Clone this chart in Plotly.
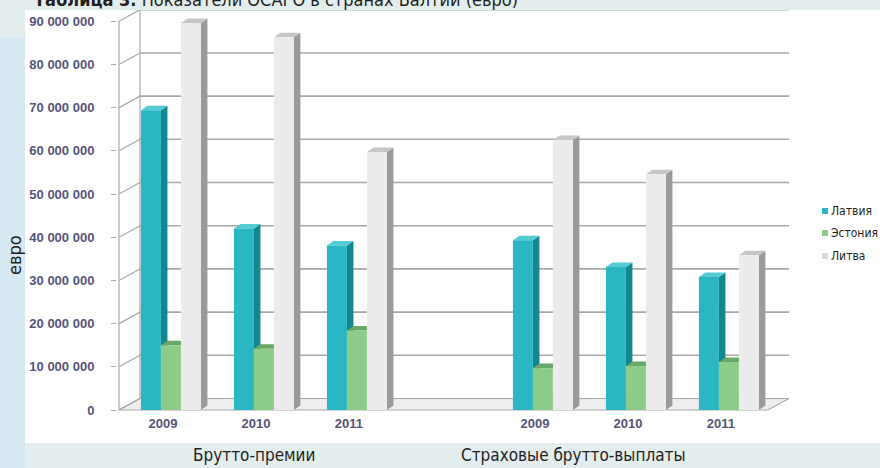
import plotly.graph_objects as go

# --- data -------------------------------------------------------------
groups = ["Брутто-премии", "Страховые брутто-выплаты"]
years = ["2009", "2010", "2011"]
series_names = ["Латвия", "Эстония", "Литва"]
latvia = [69.4e6, 42.0e6, 38.1e6, 39.3e6, 33.1e6, 30.8e6]
estonia = [15.0e6, 14.2e6, 18.4e6, 9.7e6, 10.2e6, 11.1e6]
lithuania = [89.6e6, 86.3e6, 59.7e6, 62.5e6, 54.6e6, 35.8e6]
y_ticks = [0, 10e6, 20e6, 30e6, 40e6, 50e6, 60e6, 70e6, 80e6, 90e6]
title_bold = "Таблица 3."
title_rest = "Показатели ОСАГО в странах Балтии (евро)"
y_title = "евро"

# --- layout geometry ----------------------------------------------------
W, H = 880, 468
ML, MR, MT, MB = 117, 90, 10, 56
PW, PH = W - ML - MR, H - MT - MB
XR = [-0.58, 6.657]
YR = [-0.463e6, 92.6e6]
UX = (XR[1] - XR[0]) / PW      # x units per pixel
UY = (YR[1] - YR[0]) / PH      # y units per pixel

# category positions: one empty slot between the two groups
x_pos = [0, 1, 2, 4, 5, 6]
tick_text = years + years

BARGAP = 0.355
BW = (1 - BARGAP) / 3

# 3D depth offsets (pixels -> axis units)
BDX, BDY = 6.5 * UX, 4.5 * UY     # bar depth
WDX, WDY = 21 * UX, 11.5 * UY     # wall / floor depth

FONT_NARROW = "Liberation Sans Narrow, DejaVu Sans Condensed, Roboto, sans-serif"
FONT_AXIS = "Liberation Sans, Arial, sans-serif"

front = ["#2ab6c2", "#8ccb88", "#ebebeb"]
side = ["#12878f", "#5f9f5c", "#9a9a9a"]
top = ["#55cbd3", "#6aa867", "#c6c6c6"]
values = [latvia, estonia, lithuania]


def fx(px):
    return (px - ML) / PW


def fy(py):
    return (H - MB - py) / PH


shapes = []

# page background pieces
shapes.append(dict(type="rect", xref="paper", yref="paper", x0=fx(0), x1=fx(25),
                   y0=fy(468), y1=fy(38), fillcolor="#d6e8f2", line_width=0, layer="below"))
shapes.append(dict(type="rect", xref="paper", yref="paper", x0=fx(25), x1=fx(880),
                   y0=fy(443), y1=fy(10), fillcolor="#ffffff", line_width=0, layer="below"))

# walls, floor and gridlines of the 3D frame
xl = XR[0] + 2 * UX
xe = XR[1] - 1 * UX
grid_col = "#a9a9a9"
shapes.append(dict(type="path", xref="x", yref="y",
                   path=f"M{xl},0 L{xe - WDX},0 L{xe},{WDY} L{xl + WDX},{WDY} Z",
                   fillcolor="#eeeeee", line=dict(color=grid_col, width=1.2), layer="below"))
shapes.append(dict(type="line", xref="x", yref="y", x0=xl, x1=xl, y0=0, y1=y_ticks[-1],
                   line=dict(color=grid_col, width=1.2), layer="below"))
shapes.append(dict(type="line", xref="x", yref="y", x0=xl + WDX, x1=xl + WDX, y0=WDY,
                   y1=y_ticks[-1] + WDY, line=dict(color=grid_col, width=1.2), layer="below"))
for v in y_ticks:
    shapes.append(dict(type="line", xref="x", yref="y", x0=xl, x1=xl + WDX, y0=v, y1=v + WDY,
                       line=dict(color=grid_col, width=1.2), layer="below"))
    if v > 0:
        shapes.append(dict(type="line", xref="x", yref="y", x0=xl + WDX, x1=xe,
                           y0=v + WDY, y1=v + WDY,
                           line=dict(color=grid_col, width=1.6), layer="below"))

# side and top faces of each column
for i, vals in enumerate(values):
    for xp, v in zip(x_pos, vals):
        xr = xp + (i - 1) * BW + BW / 2
        xa = xr - BW
        shapes.append(dict(type="path", xref="x", yref="y",
                           path=f"M{xr},0 L{xr},{v} L{xr + BDX},{v + BDY} L{xr + BDX},{BDY} Z",
                           fillcolor=side[i], line_width=0, layer="below"))
        shapes.append(dict(type="path", xref="x", yref="y",
                           path=f"M{xa},{v} L{xr},{v} L{xr + BDX},{v + BDY} L{xa + BDX},{v + BDY} Z",
                           fillcolor=top[i], line_width=0, layer="below"))

fig = go.Figure()
for i, vals in enumerate(values):
    fig.add_trace(go.Bar(x=x_pos, y=vals, name=series_names[i],
                         marker=dict(color=front[i], line_width=0), showlegend=False))

# legend drawn as small squares with labels
legend_y = [211, 233, 256]
annotations = []
for i, name in enumerate(series_names):
    shapes.append(dict(type="rect", xref="paper", yref="paper",
                       x0=fx(822), x1=fx(828), y0=fy(legend_y[i] + 3), y1=fy(legend_y[i] - 3),
                       fillcolor=front[i] if i < 2 else "#d9d9d9", line_width=0))
    annotations.append(dict(xref="paper", yref="paper", x=fx(829), y=fy(legend_y[i]),
                            xanchor="left", yanchor="middle", text=name, showarrow=False,
                            font=dict(family=FONT_NARROW, size=12, color="#231f20")))

annotations.append(dict(xref="paper", yref="paper", x=fx(32), y=fy(12),
                        xanchor="left", yanchor="bottom", showarrow=False,
                        text=f"<b>{title_bold}</b> {title_rest}",
                        font=dict(family=FONT_NARROW, size=18, color="#231f20")))
annotations.append(dict(xref="paper", yref="paper", x=fx(15), y=fy(255),
                        xanchor="center", yanchor="middle", textangle=-90, showarrow=False,
                        text=y_title, font=dict(family=FONT_NARROW, size=18, color="#231f20")))
group_centers = [254, 573]
for g, cx in zip(groups, group_centers):
    annotations.append(dict(xref="paper", yref="paper", x=fx(cx), y=fy(455),
                            xanchor="center", yanchor="middle", text=g, showarrow=False,
                            font=dict(family=FONT_NARROW, size=17, color="#231f20")))

fig.update_layout(
    width=W, height=H,
    margin=dict(l=ML, r=MR, t=MT, b=MB, autoexpand=False),
    paper_bgcolor="#e4edee", plot_bgcolor="rgba(0,0,0,0)",
    barmode="group", bargap=BARGAP, bargroupgap=0,
    separators=", ",
    shapes=shapes, annotations=annotations,
    showlegend=False,
)
fig.update_xaxes(range=XR, tickvals=x_pos, ticktext=tick_text, showgrid=False,
                 zeroline=False, showline=False, ticks="", ticklabelshift=-8,
                 ticklabelstandoff=2,
                 tickfont=dict(family=FONT_AXIS, size=13, color="#55557a", weight="bold"))
fig.update_yaxes(range=YR, tickvals=y_ticks, tickformat=",d", showgrid=False,
                 zeroline=False, showline=False, ticks="outside", ticklen=5,
                 tickcolor="#a9a9a9", ticklabelstandoff=14,
                 tickfont=dict(family=FONT_AXIS, size=13, color="#55557a", weight="bold"))

fig.write_html("out.html")
